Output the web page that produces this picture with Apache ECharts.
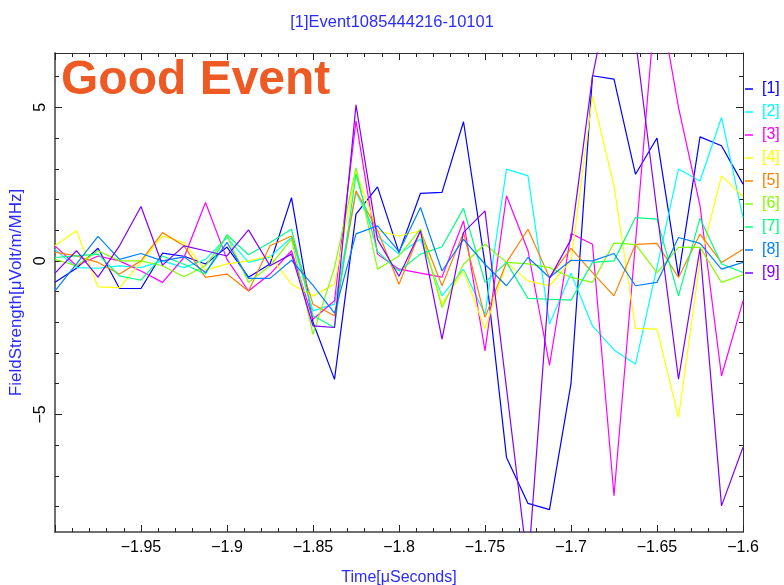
<!DOCTYPE html>
<html>
<head>
<meta charset="utf-8">
<script src="https://cdn.jsdelivr.net/npm/echarts@6/dist/echarts.min.js"></script>
<style>html,body{margin:0;padding:0;background:#fff}#c{width:784px;height:585px}</style>
</head>
<body>
<div id="c"></div>
<script>
const times = [-2.0, -1.9875, -1.975, -1.9625, -1.95, -1.9375, -1.925, -1.9125, -1.9, -1.8875, -1.875, -1.8625, -1.85, -1.8375, -1.825, -1.8125, -1.8, -1.7875, -1.775, -1.7625, -1.75, -1.7375, -1.725, -1.7125, -1.7, -1.6875, -1.675, -1.6625, -1.65, -1.6375, -1.625, -1.6125, -1.6];
const seriesNames = ['[1]', '[2]', '[3]', '[4]', '[5]', '[6]', '[7]', '[8]', '[9]'];
const s1 = [-0.7, -0.24, 0.41, -0.9, -0.9, 0.25, 0.15, -0.1, 0.45, -0.53, -0.1, 2.06, -2.0, -3.86, 1.52, 2.41, 0.27, 2.2, 2.23, 4.53, -0.1, -6.4, -7.9, -8.1, -4.0, 6.03, 5.92, 2.82, 4.0, -0.49, 4.04, 3.75, 2.5];
const s2 = [0.38, -0.22, -0.24, -0.16, -0.22, 0, -0.22, 0.05, 0.76, -0.05, 0.13, 0.76, -1.63, -1.41, 2.23, 0.81, 0.22, 0.71, -1.14, -0.27, -1.74, 2.99, 2.77, -2.06, -0.4, -2.12, -2.9, -3.36, -0.2, 2.99, 2.6, 4.67, 1.41];
const s3 = [0.49, -0.16, 0.16, 0, -0.33, -0.7, 0.11, 1.9, 0.05, -0.98, -0.43, 0.33, -1.9, -1.3, 4.56, 0.22, -0.27, -0.4, -0.53, 1.3, -2.93, 2.12, 0.33, -3.4, 0.89, 0.54, -7.65, 0.6, 9.0, 5.0, 1.8, -3.75, -1.3];
const s4 = [0.49, 0.98, -0.85, -0.87, -0.05, 0.81, 0.6, -0.3, -0.1, 0, 0.16, -0.76, -1.14, -0.76, 2.9, 0.98, 0.81, 0.98, -1.4, -0.33, -2.22, -0.05, -0.65, -0.81, 0.0, 5.37, 2.44, -2.2, -2.22, -5.1, 0.0, 2.77, 2.1];
const s5 = [0.28, 0.16, -0.05, -0.43, 0, 0.92, 0.49, -0.54, -0.43, -0.98, 0.49, 0.81, -1.41, -1.79, 2.28, 1.0, -0.76, 0.98, -0.81, 0.92, -1.84, -0.05, 1.03, -0.54, 0.41, -0.38, -1.14, 0.54, 0.57, -0.54, 0.87, -0.05, 0.38];
const s6 = [0.05, -0.16, 0.33, 0, 0, -0.16, -0.52, -0.16, 0.81, -0.7, -0.16, 0.71, -2.39, -0.22, 3.04, -0.27, 0.16, 1.03, -1.52, -0.11, 0.54, -0.05, -0.1, -0.22, -0.54, -0.7, 0.58, 0.54, -0.38, 0.44, 0.44, -0.7, -0.45];
const s7 = [0.11, 0.16, 0.22, -0.49, -0.63, 0.16, -0.11, -0.43, 0.85, 0.2, 0.6, 1.03, -1.79, -2.17, 2.82, 0.3, -0.33, 0.22, 0.46, 1.71, -0.7, -0.05, -1.22, -1.25, -1.28, -0.05, 0.0, 1.41, 1.36, -1.14, 1.39, -0.1, -0.38];
const s8 = [-0.98, -0.1, 0.8, 0.05, 0.24, 0, 0.13, -0.38, 0.6, -0.57, -0.57, 0.02, -0.8, -1.7, 0.88, 1.14, 0.3, 1.74, -0.33, 0.7, -0.11, -0.81, 0.11, -0.54, 0.02, 0, 0.24, -0.81, -0.7, 0.76, 0.57, -0.27, -0.05];
const s9 = [-0.4, 0.33, -0.53, 0.49, 1.77, -0.14, 0.49, 0.33, 0.16, 1.01, -0.16, 0.22, -2.12, -2.17, 5.08, 0.7, -0.5, 0.98, -2.55, 0.93, 1.63, -4.15, -10.0, -0.57, 0.7, 6.0, 9.5, 7.2, 1.6, -3.85, 0.4, -7.98, -6.07];
const yMajorTicks = [-5, 0, 5];
const yMinorTicks = [-8, -7, -6, -5, -4, -3, -2, -1, 0, 1, 2, 3, 4, 5, 6];

const allValues = [s1, s2, s3, s4, s5, s6, s7, s8, s9];
const colors = ['#0000ff', '#00ffff', '#ff00ff', '#ffff00', '#ff8000', '#80ff00', '#00ff80', '#0080ff', '#8000ff'];
const xMin = -2.0, xMax = -1.6, yMin = -8.83, yMax = 6.77;
const blue = '#2b2bff';
const font = 'Liberation Sans';

function fmtX(v) {
  if (v < -1.999) return '';
  return String(+v.toFixed(2)).replace('-', '\u2212');
}
function fmtY(v) { return String(v).replace('-', '\u2212'); }

const baseX = {
  type: 'value', min: xMin, max: xMax, interval: 0.05,
  splitLine: { show: false },
  axisTick: { show: true, inside: true, length: 7, lineStyle: { color: '#222', width: 1 } },
  minorTick: { show: true, splitNumber: 5, length: 4, lineStyle: { color: '#222', width: 1 } },
};
const chart = echarts.init(document.getElementById('c'), null, { renderer: 'canvas' });
const option = {
  animation: false,
  backgroundColor: '#fff',
  title: {
    text: '[1]Event1085444216-10101', left: 'center', top: 9,
    textStyle: { color: blue, fontSize: 16.5, fontWeight: 'normal', fontFamily: 'Liberation Sans' }
  },
  graphic: [{
    type: 'text', left: 61, top: 57,
    style: { text: 'Good Event', fill: '#ee5a24', font: 'bold 48px "Liberation Sans"' }
  }],
  legend: {
    orient: 'vertical', left: 745, top: 81, padding: 0, itemGap: 7,
    icon: 'rect', itemWidth: 8, itemHeight: 1.5,
    data: seriesNames.map((n, i) => ({ name: n, textStyle: { color: colors[i] } })),
    textStyle: { fontSize: 16, fontFamily: font, lineHeight: 15.5, padding: [0, 0, 0, 4] },
    selectedMode: false
  },
  grid: { left: 55, right: 41, top: 53, bottom: 53, containLabel: false, outerBoundsMode: 'none' },
  xAxis: [
    Object.assign({}, baseX, {
      position: 'bottom',
      name: 'Time[\u03bcSeconds]', nameLocation: 'middle', nameGap: 38,
      nameTextStyle: { color: blue, fontSize: 16, fontFamily: font },
      axisLine: { show: true, onZero: false, lineStyle: { color: '#707070', width: 2 } },
      axisLabel: { show: true, margin: 8, color: '#000', fontSize: 16, fontFamily: font, formatter: fmtX, showMinLabel: true, showMaxLabel: true }
    }),
    Object.assign({}, baseX, {
      position: 'top',
      axisLine: { show: true, onZero: false, lineStyle: { color: '#333', width: 1 } },
      axisLabel: { show: false }
    })
  ],
  yAxis: [
    {
      type: 'value', min: yMin, max: yMax, position: 'left',
      name: 'FieldStrength[\u03bcVolt/m/MHz]', nameLocation: 'middle', nameGap: 28,
      nameTextStyle: { color: blue, fontSize: 17, fontFamily: font },
      splitLine: { show: false },
      axisLine: { show: true, onZero: false, lineStyle: { color: '#707070', width: 2 } },
      axisTick: { show: true, inside: true, length: 7, customValues: yMajorTicks, lineStyle: { color: '#222' } },
      axisLabel: { show: true, rotate: 90, margin: 6, color: '#000', fontSize: 16, fontFamily: font, customValues: yMajorTicks, formatter: fmtY }
    },
    {
      type: 'value', min: yMin, max: yMax, position: 'left',
      splitLine: { show: false }, axisLine: { show: false, onZero: false },
      axisTick: { show: true, inside: true, length: 4, customValues: yMinorTicks, lineStyle: { color: '#222' } },
      axisLabel: { show: false }
    },
    {
      type: 'value', min: yMin, max: yMax, position: 'right',
      splitLine: { show: false },
      axisLine: { show: true, onZero: false, lineStyle: { color: '#333', width: 1 } },
      axisTick: { show: true, inside: true, length: 7, customValues: yMajorTicks, lineStyle: { color: '#222' } },
      axisLabel: { show: false }
    },
    {
      type: 'value', min: yMin, max: yMax, position: 'right',
      splitLine: { show: false }, axisLine: { show: false, onZero: false },
      axisTick: { show: true, inside: true, length: 4, customValues: yMinorTicks, lineStyle: { color: '#222' } },
      axisLabel: { show: false }
    }
  ],
  series: allValues.map((vals, i) => ({
    name: seriesNames[i], type: 'line', xAxisIndex: 0, yAxisIndex: 0,
    data: times.map((t, k) => [t, vals[k]]),
    showSymbol: false, symbol: 'none', clip: true,
    color: colors[i],
    lineStyle: { color: colors[i], width: 1.2 },
    emphasis: { disabled: true }
  }))
};
chart.setOption(option);
</script>
</body>
</html>
